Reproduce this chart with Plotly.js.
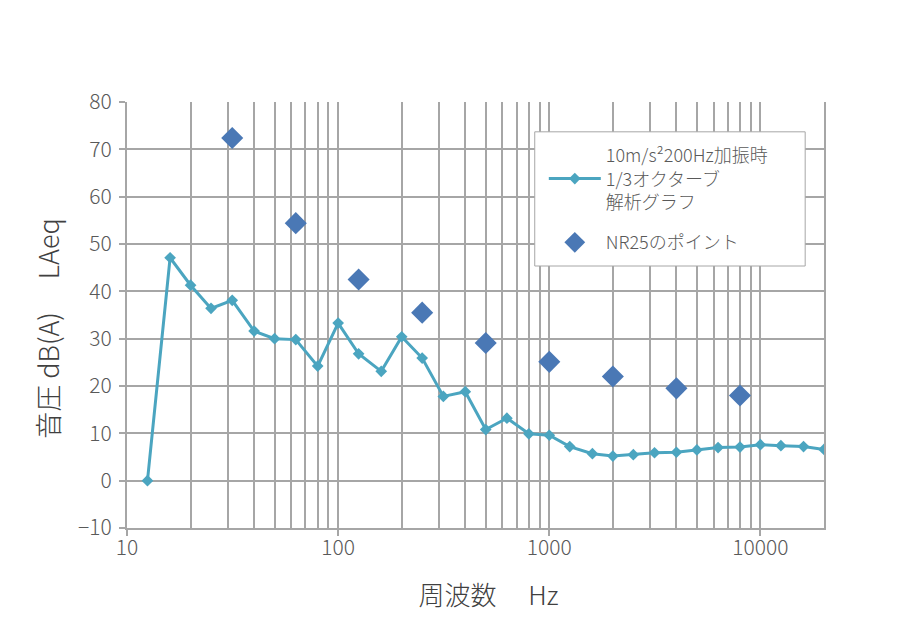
<!DOCTYPE html>
<html>
<head>
<meta charset="utf-8">
<script src="https://cdn.plot.ly/plotly-3.0.1.min.js"></script>
<style>
  html, body { margin: 0; padding: 0; background: #fff; }
  #chart { width: 912px; height: 628px; }
</style>
</head>
<body>
<div id="chart"></div>
<script>
// 1/3オクターブ中心周波数
const freqs = [12.5, 16, 20, 25, 31.5, 40, 50, 63, 80, 100, 125, 160, 200, 250, 315, 400,
  500, 630, 800, 1000, 1250, 1600, 2000, 2500, 3150, 4000, 5000, 6300, 8000, 10000,
  12500, 16000, 20000];
// 加振時の音圧
const levels = [0, 47.1, 41.3, 36.4, 38.1, 31.6, 30.0, 29.8, 24.2, 33.3, 26.8, 23.1, 30.4,
  25.9, 17.8, 18.8, 10.8, 13.2, 9.9, 9.6, 7.2, 5.7, 5.2, 5.5, 5.9, 6.0, 6.5, 7.0, 7.1,
  7.6, 7.4, 7.2, 6.6];
// NR25
const nrFreqs = [31.5, 63, 125, 250, 500, 1000, 2000, 4000, 8000];
const nrLevels = [72.4, 54.4, 42.5, 35.5, 29.1, 25.1, 22.0, 19.5, 18.0];

// 軸目盛 (10年ごと)
const decades = [10, 100, 1000, 10000];

const lineName = "10m/s²200Hz加振時<br>1/3オクターブ<br>解析グラフ";
const nrName = "NR25のポイント";

const fontFamily = '"Noto Sans CJK JP", "Open Sans", sans-serif';
const gridColor = "#a6a6a6";

// 対数軸のグリッド: 10,20,...,90,100,200,... (ラベルは10年ごとだけ)
const gridVals = [];
const gridText = [];
for (let d = 10; d <= 10000; d *= 10) {
  for (let k = 1; k <= 9; k++) {
    if (d * k <= 20000) {
      gridVals.push(d * k);
      gridText.push(k === 1 ? String(d) : "");
    }
  }
}

const data = [
  {
    x: freqs,
    y: levels,
    name: lineName,
    legendgroup: "a",
    type: "scatter",
    mode: "lines+markers",
    line: { color: "#4ba5c0", width: 3 },
    marker: { symbol: "diamond", size: 9, color: "#4ba5c0" }
  },
  {
    x: nrFreqs,
    y: nrLevels,
    name: nrName,
    legendgroup: "b",
    type: "scatter",
    mode: "markers",
    marker: { symbol: "diamond", size: 17, color: "#4a78b5" }
  }
];

const layout = {
  width: 912,
  height: 628,
  margin: { l: 127, r: 88, t: 102, b: 100 },
  paper_bgcolor: "#fff",
  plot_bgcolor: "#fff",
  font: { family: fontFamily, color: "#595959", size: 20, weight: 300 },
  showlegend: true,
  legend: {
    x: 0.598, y: 0.918, xanchor: "left", yanchor: "top",
    bgcolor: "rgba(0,0,0,0)",
    borderwidth: 0,
    font: { size: 18, color: "#595959", family: fontFamily, weight: 300 },
    tracegroupgap: 14,
    itemwidth: 52
  },
  // 凡例の枠
  shapes: [{
    type: "rect", xref: "paper", yref: "paper",
    x0: 0.585, x1: 0.973, y0: 0.615, y1: 0.930,
    fillcolor: "#fff", line: { color: "#a6a6a6", width: 1 },
    layer: "above"
  }],
  xaxis: {
    type: "log",
    range: [1, Math.log10(20000)],
    tickmode: "array",
    tickvals: gridVals,
    ticktext: gridText,
    ticks: "",
    showgrid: true,
    gridcolor: gridColor,
    gridwidth: 2,
    minor: {
      tickmode: "array", tickvals: decades, showgrid: false,
      ticks: "outside", ticklen: 6, tickcolor: gridColor, tickwidth: 2
    },
    showline: true,
    linecolor: gridColor,
    linewidth: 2,
    zeroline: false,
    tickfont: { size: 21, color: "#595959" },
    title: { text: "\u200B　周波数　 Hz", font: { size: 26, color: "#404040" }, standoff: 27 }
  },
  yaxis: {
    range: [-10, 80],
    dtick: 10,
    showgrid: true,
    gridcolor: gridColor,
    gridwidth: 2,
    zeroline: false,
    ticks: "outside",
    ticklen: 6,
    tickcolor: gridColor,
    tickwidth: 2,
    ticklabelstandoff: 3,
    showline: true,
    mirror: true,
    linecolor: gridColor,
    linewidth: 2,
    tickfont: { size: 21, color: "#595959" },
    title: { text: "音圧 dB(A)　 LAeq　\u200B", font: { size: 27, color: "#404040" }, standoff: 11 }
  }
};

Plotly.newPlot("chart", data, layout, { staticPlot: true, displayModeBar: false });
</script>
</body>
</html>
